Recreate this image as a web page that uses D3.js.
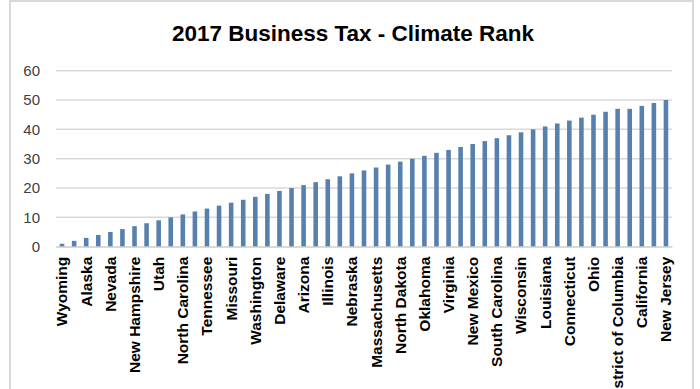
<!DOCTYPE html>
<meta charset="utf-8">
<style>
body { margin: 0; background: #fff; }
.title { font: bold 22.5px "Liberation Sans", Arial, sans-serif; fill: #000; }
.y-axis text { font: 15px "Liberation Sans", Arial, sans-serif; fill: #404040; }
.x-axis text { font: bold 15.5px "Liberation Sans", Arial, sans-serif; fill: #000; }
.grid line { stroke: #d9d9d9; stroke-width: 1.5px; }
.bar { fill: #5880ae; }
</style>
<svg width="700" height="389"></svg>
<script src="https://d3js.org/d3.v7.min.js"></script>
<script>

// states in rank order (Tax Foundation 2017), every other one gets a label like the excel chart
var states = ["Wyoming", "South Dakota", "Alaska", "Florida", "Nevada", "Montana",
  "New Hampshire", "Indiana", "Utah", "Oregon", "North Carolina", "Texas",
  "Tennessee", "Michigan", "Missouri", "Idaho", "Washington", "Colorado",
  "Delaware", "Kansas", "Arizona", "Georgia", "Illinois", "Kentucky",
  "Nebraska", "Hawaii", "Massachusetts", "West Virginia", "North Dakota", "Pennsylvania",
  "Oklahoma", "Alabama", "Virginia", "Maine", "New Mexico", "Iowa",
  "South Carolina", "Mississippi", "Wisconsin", "Rhode Island", "Louisiana", "Arkansas",
  "Connecticut", "Maryland", "Ohio", "Vermont", "District of Columbia", "Minnesota",
  "California", "New York", "New Jersey"];

var ranks = [1, 2, 3, 4, 5, 6, 7, 8, 9, 10, 11, 12, 13, 14, 15, 16, 17, 18,
  19, 20, 21, 22, 23, 24, 25, 26, 27, 28, 29, 30, 31, 32, 33, 34, 35, 36,
  37, 38, 39, 40, 41, 42, 43, 44, 45, 46, 47, 47, 48, 49, 50];

var yTicks = [0, 10, 20, 30, 40, 50, 60];

var svg = d3.select("svg");

// chart frame
svg.append("rect")
    .attr("x", 10).attr("y", 1)
    .attr("width", 683).attr("height", 400)
    .attr("fill", "#fff")
    .attr("stroke", "#d9d9d9")
    .attr("stroke-width", 2);

svg.append("text")
    .attr("class", "title")
    .attr("x", 353)
    .attr("y", 41)
    .attr("text-anchor", "middle")
    .text("2017 Business Tax - Climate Rank");

var margin = {left: 56, right: 672, top: 70.7, bottom: 246.7};

var x = d3.scaleBand()
    .domain(states)
    .range([margin.left, margin.right])
    .paddingInner(0.62)
    .paddingOuter(0.31);

var y = d3.scaleLinear()
    .domain([0, 60])
    .range([margin.bottom, margin.top]);

// gridlines
svg.append("g")
    .attr("class", "grid")
    .selectAll("line")
    .data(yTicks)
    .enter().append("line")
      .attr("x1", margin.left)
      .attr("x2", margin.right)
      .attr("y1", function(d) { return y(d); })
      .attr("y2", function(d) { return y(d); });

var yAxis = svg.append("g")
    .attr("class", "y-axis")
    .attr("transform", "translate(" + (margin.left - 13) + ",0)")
    .call(d3.axisLeft(y).tickValues(yTicks).tickSize(0).tickPadding(3));
yAxis.select(".domain").remove();

svg.append("g")
    .selectAll("rect")
    .data(ranks)
    .enter().append("rect")
      .attr("class", "bar")
      .attr("x", function(d, i) { return x(states[i]); })
      .attr("width", x.bandwidth())
      .attr("y", function(d) { return y(d); })
      .attr("height", function(d) { return y(0) - y(d); });

var xAxis = svg.append("g")
    .attr("class", "x-axis")
    .attr("transform", "translate(0," + margin.bottom + ")")
    .call(d3.axisBottom(x)
      .tickSize(0)
      .tickFormat(function(d, i) { return i % 2 === 0 ? d : ""; }));
xAxis.select(".domain").attr("stroke", "#d9d9d9").attr("stroke-width", 1.5);
xAxis.selectAll("text")
    .attr("transform", "rotate(-90)")
    .attr("text-anchor", "end")
    .attr("x", -10)
    .attr("y", 0)
    .attr("dy", "0.35em");

</script>
